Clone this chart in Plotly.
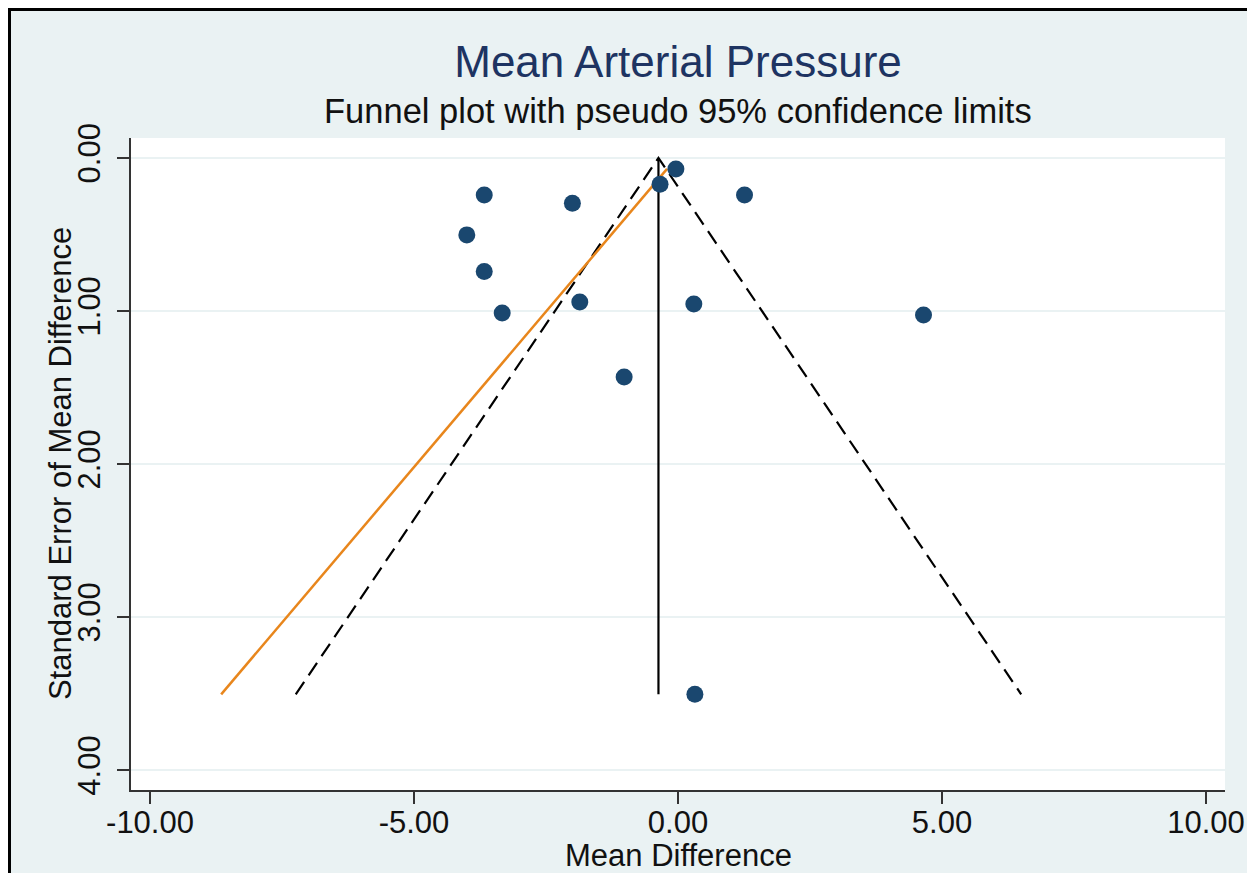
import plotly.graph_objects as go

# ---- data ----
mean_diff = [-0.04, -0.34, 1.26, -3.67, -2.00, -4.00, -3.67, -1.86, 0.30, -3.33, 4.65, -1.02, 0.32]
se_mean_diff = [0.072, 0.172, 0.242, 0.242, 0.296, 0.503, 0.743, 0.941, 0.954, 1.013, 1.026, 1.431, 3.505]
pooled_effect = -0.37
z95 = 1.96
egger_intercept = -0.03
egger_slope = -2.46
x_ticks = [-10, -5, 0, 5, 10]
x_ticklabels = ["-10.00", "-5.00", "0.00", "5.00", "10.00"]
y_ticks = [0, 1, 2, 3, 4]
y_ticklabels = ["0.00", "1.00", "2.00", "3.00", "4.00"]

OFF = 8  # page body margin
W, H = 1255 - OFF, 873 - OFF
L, R, T, B = 131 - OFF, 30, 138 - OFF, 83
BG = "#EAF2F3"
FONT = "Liberation Sans, Arial, Helvetica, sans-serif"

se_max = max(se_mean_diff)
se_min = min(se_mean_diff)

fig = go.Figure()

# pseudo 95% confidence limits
fig.add_trace(go.Scatter(
    x=[pooled_effect - z95 * se_max, pooled_effect, pooled_effect + z95 * se_max],
    y=[se_max, 0, se_max],
    mode="lines", line=dict(color="black", width=2.2, dash="15px,8px"),
    hoverinfo="skip", showlegend=False))
# pooled effect line
fig.add_trace(go.Scatter(
    x=[pooled_effect, pooled_effect], y=[0, se_max],
    mode="lines", line=dict(color="black", width=2.2),
    hoverinfo="skip", showlegend=False))
# regression line
fig.add_trace(go.Scatter(
    x=[egger_intercept + egger_slope * se_min, egger_intercept + egger_slope * se_max],
    y=[se_min, se_max],
    mode="lines", line=dict(color="#E8861C", width=2.5),
    hoverinfo="skip", showlegend=False))
# studies
fig.add_trace(go.Scatter(
    x=mean_diff, y=se_mean_diff, mode="markers",
    marker=dict(color="#1A476F", size=17, line=dict(width=0)),
    showlegend=False))

pw = W - L - R
ph = H - T - B
def px_x(p):  # page pixel -> paper x
    return (p - OFF - L) / pw
def px_y(p):  # page pixel -> paper y
    return (H - B - (p - OFF)) / ph

shapes = [
    dict(type="line", xref="paper", yref="paper", x0=px_x(OFF + 1.5), x1=px_x(OFF + 1.5),
         y0=px_y(OFF), y1=px_y(H + OFF + 2), line=dict(color="black", width=3), layer="below"),
    dict(type="line", xref="paper", yref="paper", x0=px_x(OFF), x1=px_x(1254), y0=px_y(OFF + 1.5),
         y1=px_y(OFF + 1.5), line=dict(color="black", width=3), layer="below"),
]

annotations = [
    dict(text="Funnel plot with pseudo 95% confidence limits",
         x=0.5, xref="paper", xanchor="center", y=px_y(111), yref="paper", yanchor="middle",
         showarrow=False, font=dict(size=34.5, color="#111111", family=FONT)),
    dict(text="Mean Difference",
         x=0.5, xref="paper", xanchor="center", y=px_y(855), yref="paper", yanchor="middle",
         showarrow=False, font=dict(size=31, color="#111111", family=FONT)),
    dict(text="Standard Error of Mean Difference", textangle=-90,
         x=px_x(60), xref="paper", xanchor="center", y=0.5, yref="paper", yanchor="middle",
         showarrow=False, font=dict(size=31, color="#111111", family=FONT)),
]

fig.update_layout(
    width=W, height=H,
    margin=dict(l=L, r=R, t=T, b=B, autoexpand=False),
    paper_bgcolor=BG, plot_bgcolor="white",
    font=dict(family=FONT, color="#111111"),
    title=dict(text="Mean Arterial Pressure", x=0.5, xref="paper", xanchor="center",
               y=1 - (62 - OFF) / H, yref="container", yanchor="middle",
               font=dict(size=44, color="#1E3462", family=FONT)),
    annotations=annotations,
    shapes=shapes,
    xaxis=dict(range=[-10.36, 10.36], tickvals=x_ticks, ticktext=x_ticklabels,
               showgrid=False, zeroline=False, showline=True, linecolor="#333333", linewidth=2,
               ticks="outside", ticklen=12, tickwidth=2, tickcolor="#333333",
               ticklabelstandoff=-8,
               tickfont=dict(size=31, color="#111111")),
    yaxis=dict(range=[4.13, -0.13], tickvals=y_ticks, ticktext=y_ticklabels, tickangle=-90,
               showgrid=True, gridcolor=BG, gridwidth=2, zeroline=False,
               showline=True, linecolor="#333333", linewidth=2,
               ticks="outside", ticklen=12, tickwidth=2, tickcolor="#333333",
               ticklabelstandoff=5,
               tickfont=dict(size=31, color="#111111")),
)

fig.write_html("out.html")
